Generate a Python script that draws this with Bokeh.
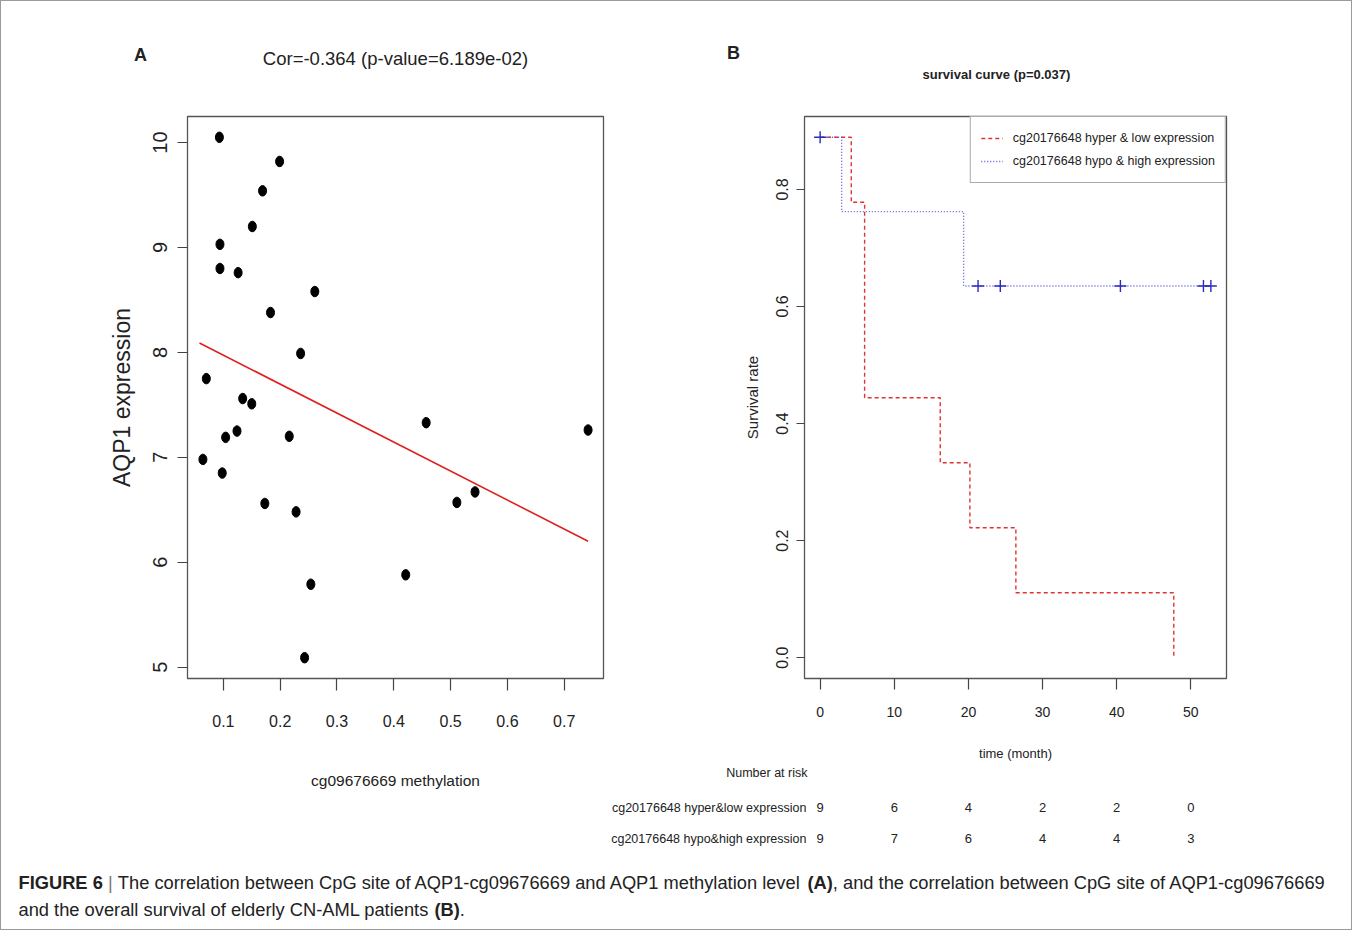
from bokeh.plotting import figure
from bokeh.models import (Range1d, FixedTicker, PrintfTickFormatter, Label, LabelSet,
                          ColumnDataSource, Legend, LegendItem)
from bokeh.layouts import row, column
from bokeh.core.properties import value
from bokeh.embed import file_html
from bokeh.resources import INLINE

# ---------------- data: panel A (scatter) ----------------
methylation = [0.093, 0.199, 0.169, 0.151, 0.094, 0.094, 0.126, 0.261, 0.183, 0.236,
               0.070, 0.134, 0.150, 0.457, 0.742, 0.124, 0.216, 0.104, 0.064, 0.098,
               0.543, 0.173, 0.511, 0.228, 0.421, 0.254, 0.243]
expression = [10.05, 9.82, 9.54, 9.20, 9.03, 8.80, 8.76, 8.58, 8.38, 7.99,
              7.75, 7.56, 7.51, 7.33, 7.26, 7.25, 7.20, 7.19, 6.98, 6.85,
              6.67, 6.56, 6.57, 6.48, 5.88, 5.79, 5.09]
fit_x = [0.058, 0.742]
fit_y = [8.09, 6.20]
a_xticks = [0.1, 0.2, 0.3, 0.4, 0.5, 0.6, 0.7]
a_yticks = [5, 6, 7, 8, 9, 10]
a_title = "Cor=-0.364 (p-value=6.189e-02)"
a_xlabel = "cg09676669 methylation"

# ---------------- data: panel B (survival) ----------------
hyper_time = [0, 4.2, 6.0, 16.2, 20.2, 26.4, 47.7]
hyper_surv = [0.889, 0.778, 0.444, 0.333, 0.222, 0.111, 0.0]
hypo_time = [0, 2.9, 19.35, 52.7]
hypo_surv = [0.889, 0.762, 0.635, 0.635]
hypo_cens_time = [0, 21.3, 24.3, 40.5, 51.7, 52.7]
hypo_cens_surv = [0.889, 0.635, 0.635, 0.635, 0.635, 0.635]
b_xticks = [0, 10, 20, 30, 40, 50]
b_yticks = [0.0, 0.2, 0.4, 0.6, 0.8]
risk_times = [0, 10, 20, 30, 40, 50]
risk_hyper = [9, 6, 4, 2, 2, 0]
risk_hypo = [9, 7, 6, 4, 4, 3]
group_names = ["cg20176648 hyper & low expression", "cg20176648 hypo & high expression"]
risk_names = ["cg20176648 hyper&low expression", "cg20176648 hypo&high expression"]
b_title = "survival curve (p=0.037)"

SANS = "Liberation Sans"
TXT = "#222222"
AXC = "#555555"
RED = "#e03434"
BLUE = "#5a5ae0"

TOTAL_W = 1350
A_W_FIG = 605
B_W_FIG = TOTAL_W - A_W_FIG
HEAD_H = 100
ROW_H = 662
TAB_H = 98
CAP_H = 68


def pad(lo, hi):
    d = (hi - lo) * 0.04
    return lo - d, hi + d


def clean(p):
    p.xgrid.visible = False
    p.ygrid.visible = False
    p.background_fill_color = "white"
    p.border_fill_color = "white"


def style_axis(ax, ticks, fmt, size, tick_out, standoff, label=None, lsize=None, lstandoff=None,
               vertical=False):
    ax.ticker = FixedTicker(ticks=ticks)
    ax.formatter = PrintfTickFormatter(format=fmt)
    ax.axis_line_color = None
    ax.major_tick_line_color = "#444444"
    ax.major_tick_line_width = 1.2
    ax.major_tick_out = tick_out
    ax.major_tick_in = 0
    ax.minor_tick_line_color = None
    ax.major_label_text_font = SANS
    ax.major_label_text_font_size = size
    ax.major_label_text_color = TXT
    ax.major_label_standoff = standoff
    if vertical:
        ax.major_label_orientation = "vertical"
    if label:
        ax.axis_label = label
        ax.axis_label_text_font = SANS
        ax.axis_label_text_font_size = lsize
        ax.axis_label_text_font_style = "normal"
        ax.axis_label_text_color = TXT
        ax.axis_label_standoff = lstandoff


def text_canvas(w, h, y_top, x_range=None):
    p = figure(width=w, height=h, x_range=x_range or Range1d(0, w),
               y_range=Range1d(y_top + h, y_top),
               output_backend="svg", toolbar_location=None,
               min_border_left=0, min_border_right=0, min_border_top=0, min_border_bottom=0)
    p.axis.visible = False
    clean(p)
    p.outline_line_color = None
    return p


def lab(p, x, y, text, size, align="center", bold=False, color=TXT):
    p.add_layout(Label(x=x, y=y, text=text, text_align=align, text_baseline="middle",
                       text_font=SANS, text_font_size=size,
                       text_font_style="bold" if bold else "normal", text_color=color))


# ================= header (panel letters and titles) =================
ph = text_canvas(TOTAL_W, HEAD_H, 0)
lab(ph, 139, 53, "A", "18px", bold=True)
lab(ph, 394, 57, a_title, "18.5px")
lab(ph, 732, 51, "B", "18px", bold=True)
lab(ph, 995, 73, b_title, "13px", bold=True)

# ================= Panel A =================
ax0, ax1 = pad(min(methylation), max(methylation))
ay0, ay1 = pad(min(expression), max(expression))

pa = figure(width=A_W_FIG, height=ROW_H, x_range=Range1d(ax0, ax1), y_range=Range1d(ay0, ay1),
            output_backend="svg", toolbar_location=None,
            min_border_left=186, min_border_right=3, min_border_top=11,
            min_border_bottom=ROW_H - 11 - 567)
clean(pa)
pa.outline_line_color = AXC
pa.outline_line_width = 1.3

style_axis(pa.xaxis[0], a_xticks, "%.1f", "16px", 12, 24)
style_axis(pa.yaxis[0], a_yticks, "%d", "20px", 10, 10,
           "AQP1 expression", "23px", 16, vertical=True)

pa.ellipse(x=methylation, y=expression, width=8, height=10.5,
           width_units="screen", height_units="screen", fill_color="black", line_color="black")
pa.line(fit_x, fit_y, line_color="#dd2020", line_width=1.6)

# ================= Panel B =================
bx0, bx1 = pad(0, max(hypo_cens_time))
by0, by1 = pad(0, max(hyper_surv))
B_L, B_R = 803, 1225          # frame edges in page pixels
B_FIG_X = A_W_FIG


def b_x(px):
    return bx0 + (px - B_L) / (B_R - B_L) * (bx1 - bx0)


pb = figure(width=B_W_FIG, height=ROW_H, x_range=Range1d(bx0, bx1), y_range=Range1d(by0, by1),
            output_backend="svg", toolbar_location=None,
            min_border_left=B_L - B_FIG_X, min_border_right=B_FIG_X + B_W_FIG - B_R,
            min_border_top=15, min_border_bottom=ROW_H - 15 - 562)
clean(pb)
pb.outline_line_color = AXC
pb.outline_line_width = 1.3

style_axis(pb.xaxis[0], b_xticks, "%d", "14px", 11, 17,
           "time (month)", "13px", 26)
style_axis(pb.yaxis[0], b_yticks, "%.1f", "16px", 8, 8,
           "Survival rate", "15px", 13, vertical=True)

r_hyper = pb.step(hyper_time, hyper_surv, mode="after", line_color=RED, line_width=1.4,
                  line_dash="4 3")
r_hypo = pb.step(hypo_time, hypo_surv, mode="after", line_color=BLUE, line_width=1.4,
                 line_dash="1 2")
pb.scatter(hypo_cens_time, hypo_cens_surv, marker="cross", size=12, line_color="#2a2ac0",
           line_width=1.4)

legend = Legend(items=[LegendItem(label=group_names[0], renderers=[r_hyper]),
                       LegendItem(label=group_names[1], renderers=[r_hypo])],
                location="top_right", margin=0, padding=10, spacing=1,
                glyph_width=22, glyph_height=22, label_height=22, label_standoff=10,
                label_text_font=SANS, label_text_font_size="12.5px", label_text_color=TXT,
                border_line_color=AXC, border_line_width=1.3,
                background_fill_color="white", background_fill_alpha=1.0)
pb.add_layout(legend)

# ====== full-width strip: panel A x label + number-at-risk table (x in months) ======
TAB_Y0 = HEAD_H + ROW_H
pt = text_canvas(TOTAL_W, TAB_H, TAB_Y0, x_range=Range1d(b_x(0), b_x(TOTAL_W)))
lab(pt, b_x(394), 779, a_xlabel, "15.5px")
row_y = [806, 837]
lab(pt, b_x(806), 771, "Number at risk", "12.5px", align="right")
for name, yy in zip(risk_names, row_y):
    lab(pt, b_x(805), yy, name, "12.5px", align="right")
risk_src = ColumnDataSource(dict(
    x=risk_times + risk_times,
    y=[row_y[0]] * len(risk_times) + [row_y[1]] * len(risk_times),
    t=[str(v) for v in risk_hyper] + [str(v) for v in risk_hypo]))
pt.add_layout(LabelSet(x="x", y="y", text="t", source=risk_src, text_align="center",
                       text_baseline="middle", text_font=value(SANS),
                       text_font_size=value("13px"), text_color=TXT))

# ================= Caption =================
AR = {' ': 278, ',': 278, '.': 278, '-': 333, '(': 333, ')': 333, '|': 260, '&': 667,
      'a': 556, 'b': 556, 'c': 500, 'd': 556, 'e': 556, 'f': 278, 'g': 556, 'h': 556,
      'i': 222, 'j': 222, 'k': 500, 'l': 222, 'm': 833, 'n': 556, 'o': 556, 'p': 556,
      'q': 556, 'r': 333, 's': 500, 't': 278, 'u': 556, 'v': 500, 'w': 722, 'x': 500,
      'y': 500, 'z': 500, 'A': 667, 'B': 667, 'C': 722, 'G': 778, 'L': 556, 'M': 833,
      'N': 722, 'P': 667, 'Q': 778, 'T': 611}
ARB = {' ': 278, '(': 333, ')': 333, 'A': 722, 'B': 722, 'E': 667, 'F': 611, 'G': 778,
       'I': 278, 'R': 722, 'U': 722}
CAP_SIZE = 18.3


def tw(s, bold):
    t = ARB if bold else AR
    return sum(t.get(c, 556) for c in s) / 1000.0 * CAP_SIZE


cap_lines = [
    [("FIGURE 6", True, TXT), (" | ", False, "#777777"),
     ("The correlation between CpG site of AQP1-cg09676669 and AQP1 methylation level ", False, TXT),
     ("(A)", True, TXT),
     (", and the correlation between CpG site of AQP1-cg09676669", False, TXT)],
    [("and the overall survival of elderly CN-AML patients ", False, TXT),
     ("(B)", True, TXT), (".", False, TXT)],
]
CAP_Y0 = TAB_Y0 + TAB_H
cap_y = [881, 908]

pc = text_canvas(TOTAL_W, CAP_H, CAP_Y0)
for segs, yy in zip(cap_lines, cap_y):
    xx = 17.0
    for txt, bold, col in segs:
        lead = len(txt) - len(txt.lstrip(" "))
        lab(pc, xx + tw(" " * lead, bold), yy, txt.strip(" "), "%.1fpx" % CAP_SIZE,
            align="left", bold=bold, color=col)
        xx += tw(txt, bold)

layout = column(ph, row(pa, pb, spacing=0), pt, pc, spacing=0,
                styles={"border": "1px solid #9a9a9a"})
open("out.html", "w").write(file_html(layout, INLINE))
